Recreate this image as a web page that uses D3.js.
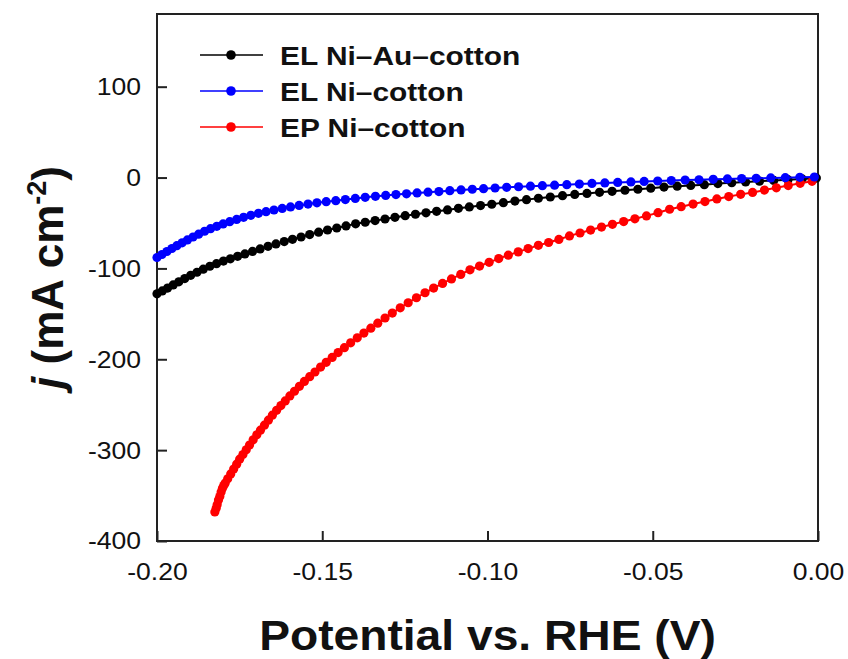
<!DOCTYPE html>
<html><head><meta charset="utf-8">
<script src="https://cdn.jsdelivr.net/npm/d3@7"></script>
<style>body{margin:0;background:#fff}svg{display:block}</style>
</head><body><svg id="c" width="848" height="659"></svg>
<script>
const seriesNames = ["EL Ni\u2013Au\u2013cotton", "EL Ni\u2013cotton", "EP Ni\u2013cotton"];
const seriesColors = ["#000000", "#0000ff", "#ff0000"];

const potentialAu = [-0.2000,-0.1984,-0.1968,-0.1951,-0.1934,-0.1916,-0.1898,-0.1879,-0.1860,-0.1840,-0.1820,-0.1799,-0.1778,-0.1756,-0.1734,-0.1711,-0.1688,-0.1664,-0.1640,-0.1615,-0.1590,-0.1564,-0.1538,-0.1511,-0.1484,-0.1456,-0.1428,-0.1399,-0.1370,-0.1340,-0.1310,-0.1280,-0.1249,-0.1218,-0.1186,-0.1154,-0.1121,-0.1088,-0.1055,-0.1021,-0.0987,-0.0952,-0.0917,-0.0882,-0.0846,-0.0810,-0.0773,-0.0736,-0.0699,-0.0661,-0.0623,-0.0584,-0.0545,-0.0506,-0.0466,-0.0426,-0.0385,-0.0344,-0.0303,-0.0261,-0.0219,-0.0177,-0.0134,-0.0091,-0.0048,-0.0005];
const currentAu = [-128,-124.8,-121.6,-118.2,-114.8,-111.2,-107.6,-104.2,-100.8,-97.6,-94.8,-91.9,-89.4,-86.7,-84.1,-81.3,-78.6,-75.7,-73,-70.5,-68,-65.4,-62.8,-60.1,-57.7,-55.5,-53.2,-50.9,-49.2,-47.4,-45.6,-43.8,-42,-40.4,-38.8,-37.2,-35.6,-33.9,-32.3,-30.8,-29.4,-27.6,-25.9,-24.3,-22.8,-21.4,-19.9,-18.6,-17.5,-16.3,-15.2,-14.0,-12.9,-11.7,-10.5,-9.5,-8.7,-7.8,-6.6,-5.7,-4.9,-4.0,-3.2,-2.3,-1.5,-0.6];

const potentialELNi = [-0.2000,-0.1985,-0.1970,-0.1955,-0.1940,-0.1924,-0.1908,-0.1891,-0.1874,-0.1856,-0.1838,-0.1819,-0.1800,-0.1780,-0.1759,-0.1738,-0.1716,-0.1693,-0.1670,-0.1646,-0.1621,-0.1596,-0.1570,-0.1543,-0.1516,-0.1488,-0.1459,-0.1430,-0.1400,-0.1370,-0.1339,-0.1308,-0.1277,-0.1245,-0.1213,-0.1180,-0.1147,-0.1114,-0.1080,-0.1046,-0.1012,-0.0977,-0.0942,-0.0906,-0.0870,-0.0834,-0.0797,-0.0760,-0.0722,-0.0684,-0.0645,-0.0606,-0.0566,-0.0526,-0.0485,-0.0444,-0.0402,-0.0360,-0.0317,-0.0274,-0.0231,-0.0187,-0.0143,-0.0099,-0.0055,-0.0011];
const currentELNi = [-88,-84.7,-81.4,-78.1,-75,-71.8,-68.6,-65.4,-62.3,-59.1,-56.3,-53.7,-51,-48.6,-46.1,-43.8,-41.6,-39.4,-37.6,-35.7,-34.0,-32.3,-30.7,-29.2,-27.8,-26.5,-25.4,-24.2,-23,-21.8,-20.7,-19.7,-18.7,-17.9,-16.9,-16.1,-15.4,-14.4,-13.6,-12.9,-12.2,-11.5,-10.8,-10.1,-9.5,-8.9,-8.35,-7.8,-7.2,-6.5,-5.9,-5.4,-4.8,-4.3,-3.8,-3.3,-2.8,-2.4,-2.0,-1.5,-1.1,-0.8,-0.4,-0.1,0.3,0.6];

const potentialEPNi = [-0.1825,-0.1821,-0.1818,-0.1814,-0.1810,-0.1806,-0.1802,-0.1798,-0.1794,-0.1786,-0.1777,-0.1768,-0.1759,-0.1750,-0.1740,-0.1730,-0.1720,-0.1709,-0.1698,-0.1687,-0.1675,-0.1663,-0.1651,-0.1638,-0.1625,-0.1612,-0.1598,-0.1584,-0.1569,-0.1554,-0.1538,-0.1522,-0.1505,-0.1488,-0.1470,-0.1452,-0.1433,-0.1414,-0.1394,-0.1374,-0.1353,-0.1332,-0.1310,-0.1288,-0.1264,-0.1240,-0.1215,-0.1189,-0.1163,-0.1136,-0.1109,-0.1081,-0.1053,-0.1024,-0.0995,-0.0966,-0.0937,-0.0907,-0.0877,-0.0846,-0.0815,-0.0784,-0.0752,-0.0720,-0.0688,-0.0655,-0.0622,-0.0588,-0.0554,-0.0519,-0.0484,-0.0449,-0.0414,-0.0378,-0.0342,-0.0306,-0.0270,-0.0234,-0.0198,-0.0162,-0.0126,-0.0090,-0.0054,-0.0018];
const currentEPNi = [-368,-364,-360,-355,-351,-346,-342,-339,-336.4,-331.6,-326.2,-320.8,-315.4,-310,-304.8,-299.6,-294.4,-288.7,-283.1,-278,-272.5,-267,-261.5,-256.2,-251,-245.8,-240.3,-235.2,-229.8,-224.4,-219.2,-214,-208.6,-203.4,-198,-192.6,-187.2,-181.9,-176.4,-171.2,-165.8,-160.3,-154.6,-149.1,-143.4,-137.8,-132.3,-126.8,-121.6,-116.5,-111.6,-106.6,-101.5,-97.4,-93.3,-89.2,-85.4,-81.8,-78.2,-74.6,-71.5,-68.1,-64.2,-61,-57.8,-54.5,-51.5,-48.4,-45.4,-42.2,-38.7,-34.9,-32.1,-29.2,-26.4,-23.5,-20.9,-18.5,-16.4,-13.8,-11.3,-8.8,-6.3,-4.1];

const xTicks = [-0.20, -0.15, -0.10, -0.05, 0.00];
const xTickLabels = ["-0.20", "-0.15", "-0.10", "-0.05", "0.00"];
const yTicks = [100, 0, -100, -200, -300, -400];
const yTickLabels = ["100", "0", "-100", "-200", "-300", "-400"];
const xDomain = [-0.2, 0];
const yDomain = [-400, 180];
const xTitle = "Potential vs. RHE (V)";

const FONT = "'Liberation Sans', Arial, Helvetica, sans-serif";
const M = {left: 157, top: 14, right: 818, bottom: 541};
const svg = d3.select("#c");
const x = d3.scaleLinear().domain(xDomain).range([M.left, M.right]);
const y = d3.scaleLinear().domain(yDomain).range([M.bottom, M.top]);

function zipSeries(px, py) {
  const n = Math.min(px.length, py.length);
  return d3.range(n).map(i => ({v: px[i], j: py[i]}));
}
const series = [
  {name: seriesNames[0], color: seriesColors[0], data: zipSeries(potentialAu, currentAu)},
  {name: seriesNames[1], color: seriesColors[1], data: zipSeries(potentialELNi, currentELNi)},
  {name: seriesNames[2], color: seriesColors[2], data: zipSeries(potentialEPNi, currentEPNi)}
];

// axes (ticks inward)
const xAxis = d3.axisBottom(x).tickValues(xTicks).tickSizeInner(-10).tickSizeOuter(0)
  .tickFormat((d, i) => xTickLabels[i]);
const gx = svg.append("g").attr("transform", `translate(0,${M.bottom})`).call(xAxis);
gx.select(".domain").remove();
gx.selectAll(".tick line").attr("stroke", "#222").attr("stroke-width", 2);
gx.selectAll(".tick text").attr("y", 39).attr("dy", null)
  .attr("font-family", FONT).attr("font-size", 23.5).attr("fill", "#111")
  .attr("transform", "scale(1.13,1)");

const yAxis = d3.axisLeft(y).tickValues(yTicks).tickSizeInner(-10).tickSizeOuter(0)
  .tickFormat((d, i) => yTickLabels[i]);
const gy = svg.append("g").attr("transform", `translate(${M.left},0)`).call(yAxis);
gy.select(".domain").remove();
gy.selectAll(".tick line").attr("stroke", "#222").attr("stroke-width", 2);
gy.selectAll(".tick text").attr("x", -16 / 1.13).attr("dy", "0.34em")
  .attr("font-family", FONT).attr("font-size", 23.5).attr("fill", "#111")
  .attr("transform", "scale(1.13,1)");

// frame
svg.append("rect").attr("x", M.left).attr("y", M.top)
  .attr("width", M.right - M.left).attr("height", M.bottom - M.top)
  .attr("fill", "none").attr("stroke", "#222").attr("stroke-width", 2);

// series: draw black, red, blue
const line = d3.line().x(d => x(d.v)).y(d => y(d.j));
const order = [0, 2, 1];
order.forEach(k => {
  const s = series[k];
  const g = svg.append("g");
  g.append("path").datum(s.data).attr("d", line).attr("fill", "none")
    .attr("stroke", s.color).attr("stroke-width", 2);
  g.selectAll("circle").data(s.data).join("circle")
    .attr("cx", d => x(d.v)).attr("cy", d => y(d.j)).attr("r", 4.6)
    .attr("fill", s.color);
});

// legend
const legRows = [55, 91, 127];
series.forEach((s, i) => {
  const g = svg.append("g").attr("transform", `translate(0,${legRows[i]})`);
  g.append("line").attr("x1", 200).attr("x2", 263).attr("y1", 0).attr("y2", 0)
    .attr("stroke", s.color).attr("stroke-width", 1.6);
  g.append("circle").attr("cx", 231).attr("cy", 0).attr("r", 4.8).attr("fill", s.color);
  g.append("text").attr("transform", "translate(280,10) scale(1.15,1)")
    .attr("font-family", FONT).attr("font-weight", "bold").attr("font-size", 26)
    .attr("fill", "#111").text(s.name);
});

// x title
svg.append("text").attr("transform", `translate(${(M.left + M.right) / 2},650) scale(1.1,1)`)
  .attr("text-anchor", "middle").attr("font-family", FONT).attr("font-weight", "bold")
  .attr("font-size", 42).attr("fill", "#111").text(xTitle);

// y title
const yt = svg.append("text").attr("transform", `translate(63,${(M.top + M.bottom) / 2}) rotate(-90)`)
  .attr("text-anchor", "middle").attr("font-family", FONT).attr("font-weight", "bold")
  .attr("font-size", 44).attr("fill", "#111");
yt.append("tspan").attr("font-style", "italic").text("j");
yt.append("tspan").text(" (mA cm");
yt.append("tspan").attr("font-size", 27).attr("dy", -17).text("-2");
yt.append("tspan").attr("dy", 17).text(")");
</script>
</body></html>
